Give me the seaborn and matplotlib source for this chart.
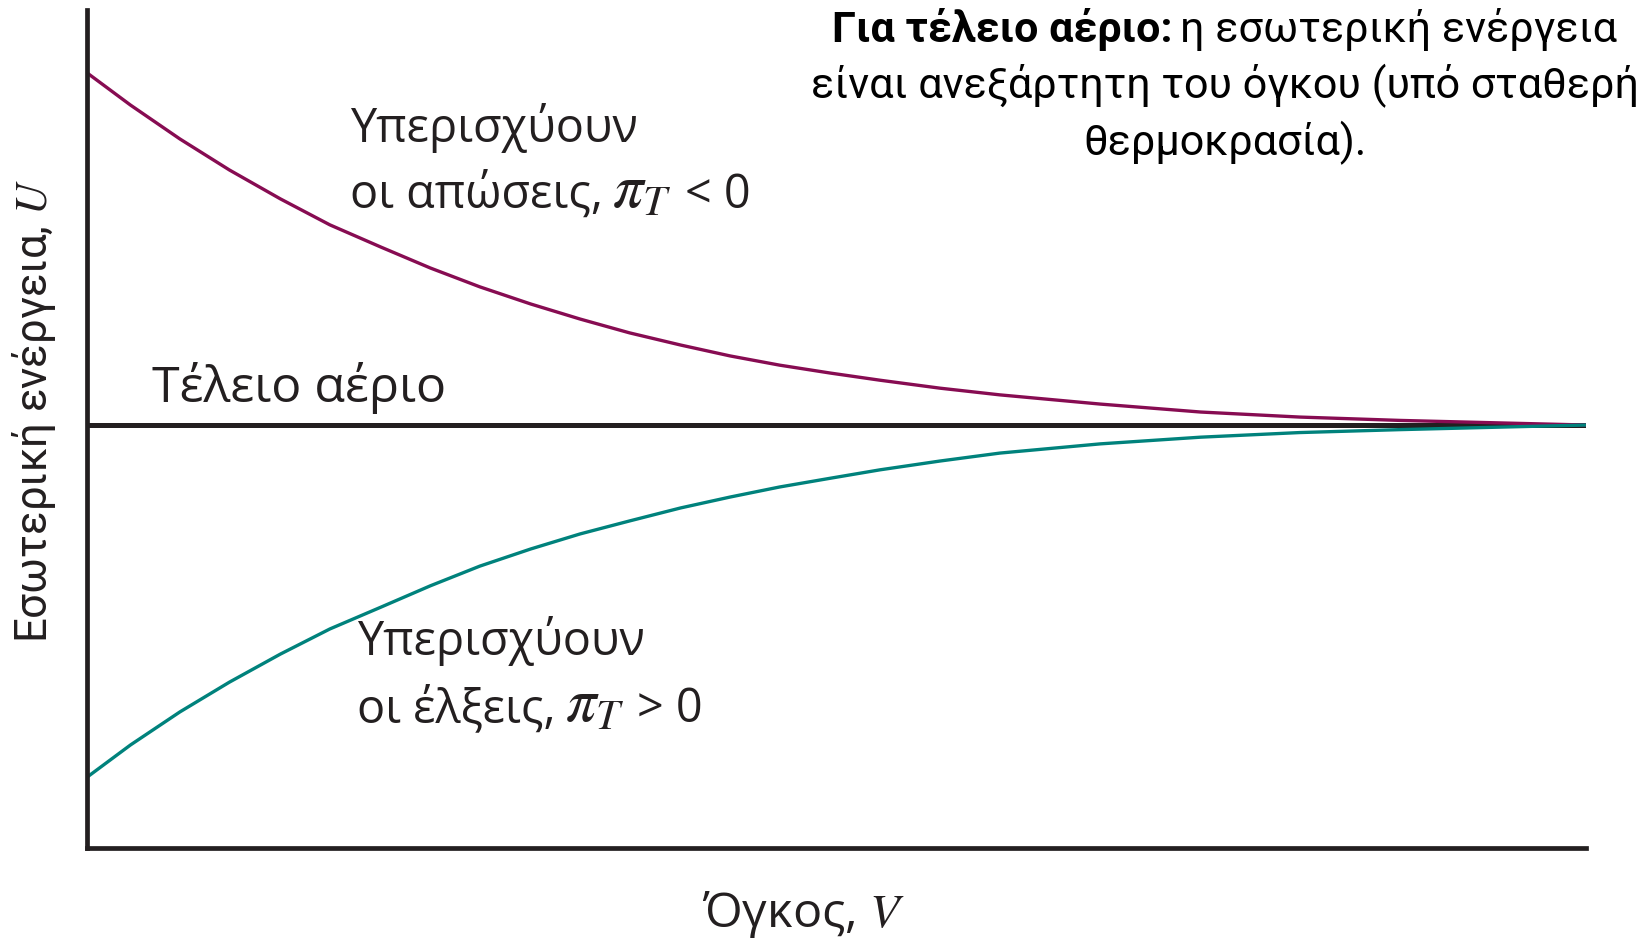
import matplotlib
matplotlib.use("Agg")
import matplotlib.pyplot as plt
from matplotlib import font_manager
import pandas as pd
import seaborn as sns

# Volume axis (arbitrary units) and internal energy relative to the perfect gas
volume = [0.0, 0.29, 0.62, 0.95, 1.29, 1.62, 1.96, 2.29, 2.62, 2.96, 3.29, 3.62, 3.96,
          4.29, 4.62, 4.96, 5.29, 5.69, 6.09, 6.76, 7.43, 8.09, 8.76, 9.43, 10.0]
u_repulsive = [0.841, 0.764, 0.683, 0.609, 0.540, 0.478, 0.425, 0.375, 0.330, 0.289,
               0.253, 0.220, 0.191, 0.165, 0.143, 0.124, 0.107, 0.088, 0.072, 0.050,
               0.031, 0.019, 0.011, 0.005, 0.0]
u_attractive = [-0.841, -0.764, -0.685, -0.614, -0.547, -0.487, -0.435, -0.384, -0.337,
                -0.296, -0.260, -0.229, -0.198, -0.172, -0.148, -0.127, -0.107, -0.086,
                -0.067, -0.045, -0.029, -0.018, -0.011, -0.005, 0.0]
volume_perfect = [0.0, 10.0]
u_perfect = [0.0, 0.0]

label_perfect = "Τέλειο αέριο"
label_rep = ["Υπερισχύουν", "οι απώσεις,", "$\\pi_T$", "< 0"]
label_att = ["Υπερισχύουν", "οι έλξεις,", "$\\pi_T$", "> 0"]
note_bold = "Για τέλειο αέριο:"
note_rest = "η εσωτερική ενέργεια"
note_lines = ["είναι ανεξάρτητη του όγκου (υπό σταθερή", "θερμοκρασία)."]
xlabel = "Όγκος, $V$"
ylabel = "Εσωτερική ενέργεια, $U$"

sns.set_theme(style="white")
available = {f.name for f in font_manager.fontManager.ttflist}
narrow = "Liberation Sans Narrow" if "Liberation Sans Narrow" in available else "Roboto"
plt.rcParams["font.family"] = ["Open Sans", "DejaVu Sans"]
plt.rcParams["mathtext.fontset"] = "stix"

INK = "#231f20"
PURPLE = "#870c52"
TEAL = "#00827c"

W, H = 1652, 940
fig = plt.figure(figsize=(W / 100, H / 100), dpi=100)
renderer = fig.canvas.get_renderer()


def fx(px):
    return px / W


def fy(py):
    return 1 - py / H


def fit(t, target, along="width"):
    for _ in range(3):
        bb = t.get_window_extent(renderer=renderer)
        cur = bb.width if along == "width" else bb.height
        t.set_fontsize(t.get_fontsize() * target / cur)
    return t.get_fontsize()


def text_run(x0, y_base, pieces):
    """Lay out (string, fontsize, gap_after_px) pieces on one baseline."""
    x = x0
    for s, size, gap in pieces:
        t = fig.text(fx(x), fy(y_base), s, ha="left", va="baseline",
                     fontsize=size, color=INK)
        x += t.get_window_extent(renderer=renderer).width + gap


ax = fig.add_axes([fx(87), fy(848), (1586 - 87) / W, (848 - 10) / H])

df_perfect = pd.DataFrame({"V": volume_perfect, "U": u_perfect})
df_rep = pd.DataFrame({"V": volume, "U": u_repulsive})
df_att = pd.DataFrame({"V": volume, "U": u_attractive})

sns.lineplot(data=df_perfect, x="V", y="U", ax=ax, color=INK, linewidth=3.6,
             estimator=None, sort=False, zorder=2)
sns.lineplot(data=df_rep, x="V", y="U", ax=ax, color=PURPLE, linewidth=2.4,
             estimator=None, sort=False, zorder=3)
sns.lineplot(data=df_att, x="V", y="U", ax=ax, color=TEAL, linewidth=2.4,
             estimator=None, sort=False, zorder=3)

ax.set_xlim(0, 10)
ax.set_ylim(-1.010, 0.991)
ax.set_xticks([])
ax.set_yticks([])
ax.set_xlabel("")
ax.set_ylabel("")
for side in ("top", "right"):
    ax.spines[side].set_visible(False)
for side in ("left", "bottom"):
    ax.spines[side].set_color(INK)
    ax.spines[side].set_linewidth(3.4)
    ax.spines[side].set_zorder(4)

# curve labels
t = fig.text(fx(350), fy(142), label_rep[0], ha="left", va="baseline", fontsize=30, color=INK)
size = fit(t, 288)
text_run(350, 208, [(label_rep[1], size, 9), (label_rep[2], size * 1.3, 13),
                    (label_rep[3], size, 0)])

fig.text(fx(357), fy(655), label_att[0], ha="left", va="baseline", fontsize=size, color=INK)
text_run(357, 722, [(label_att[1], size, 9), (label_att[2], size * 1.3, 13),
                    (label_att[3], size, 0)])

t = fig.text(fx(152), fy(402), label_perfect, ha="left", va="baseline", fontsize=30, color=INK)
fit(t, 295)

# axis titles
t = fig.text(fx(804), fy(927), xlabel, ha="center", va="baseline", fontsize=30, color=INK)
fit(t, 203)
t = fig.text(fx(34), fy(411), ylabel, ha="center", va="center", rotation=90,
             fontsize=30, color=INK, family=[narrow, "DejaVu Sans"])
fit(t, 464, along="height")

# note in the upper right corner
t = fig.text(fx(1225), fy(98), note_lines[0], ha="center", va="baseline", fontsize=30,
             color="black", family=[narrow, "DejaVu Sans"])
nsize = fit(t, 827)
fig.text(fx(1225), fy(155), note_lines[1], ha="center", va="baseline", fontsize=nsize,
         color="black", family=[narrow, "DejaVu Sans"])
fig.text(fx(832), fy(42), note_bold, ha="left", va="baseline", fontsize=nsize,
         fontweight="bold", color="black", family=[narrow, "DejaVu Sans"])
fig.text(fx(1617), fy(42), note_rest, ha="right", va="baseline", fontsize=nsize,
         color="black", family=[narrow, "DejaVu Sans"])

fig.savefig("out.png", dpi=100, facecolor="white")
